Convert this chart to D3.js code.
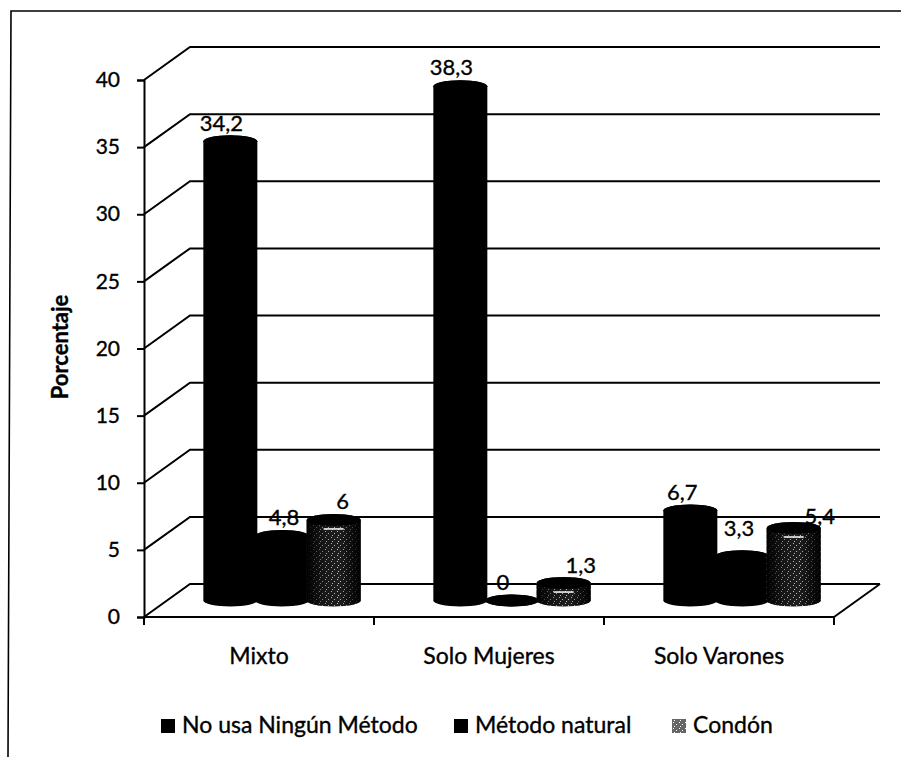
<!DOCTYPE html>
<html>
<head>
<meta charset="utf-8">
<script src="https://cdn.jsdelivr.net/npm/d3@7"></script>
<style>
  html, body { margin: 0; padding: 0; background: #fff; }
  svg { display: block; }
  text { font-family: Lato, "Open Sans", sans-serif; fill: #000; stroke: #000; stroke-width: 0.35px; }
</style>
</head>
<body>
<svg id="chart" width="901" height="757"></svg>
<script>
const categories = ["Mixto", "Solo Mujeres", "Solo Varones"];
const seriesNames = ["No usa Ningún Método", "Método natural", "Condón"];
const noUsa = [34.2, 38.3, 6.7];
const natural = [4.8, 0, 3.3];
const condon = [6, 1.3, 5.4];
const seriesValues = [noUsa, natural, condon];
const yTicks = [0, 5, 10, 15, 20, 25, 30, 35, 40];

const svg = d3.select("#chart");
const margin = { top: 80, left: 144, width: 690, height: 537 };
const depth = { x: 46, y: -33 };

// label nudges, one row per series, the original placed them by hand
const labelDx = [[-9, -9, -8], [2, -9, -3], [9, 17, 26]];
const labelDy = [[-10, -11, -11], [-11, -11, -20], [-11, -10, -4]];

const defs = svg.append("defs");

// speckled fill for the Condón series
function addSpeckle(id, bg, dot) {
    const pat = defs.append("pattern")
        .attr("id", id)
        .attr("width", 6).attr("height", 6)
        .attr("patternUnits", "userSpaceOnUse");
    pat.append("rect").attr("width", 6).attr("height", 6).attr("fill", bg);
    pat.append("rect").attr("x", 1).attr("y", 1).attr("width", 1).attr("height", 1).attr("fill", dot);
    pat.append("rect").attr("x", 4).attr("y", 3).attr("width", 1).attr("height", 1).attr("fill", dot);
    pat.append("rect").attr("x", 2).attr("y", 5).attr("width", 1).attr("height", 1).attr("fill", dot);
}
addSpeckle("speckle", "#222", "#ddd");
addSpeckle("speckleLight", "#666", "#fff");

// dark edges over the speckle so it reads as a round shape
const shade = defs.append("linearGradient").attr("id", "shade");
shade.append("stop").attr("offset", "0%").attr("stop-color", "#000").attr("stop-opacity", 1);
shade.append("stop").attr("offset", "30%").attr("stop-color", "#000").attr("stop-opacity", 0.35);
shade.append("stop").attr("offset", "60%").attr("stop-color", "#000").attr("stop-opacity", 0.1);
shade.append("stop").attr("offset", "100%").attr("stop-color", "#000").attr("stop-opacity", 1);

const fills = ["#000", "#000", "url(#speckle)"];
const swatchFills = ["#000", "#000", "url(#speckleLight)"];

// page frame, only top and left survive in the scan
svg.append("path")
    .attr("d", "M8,757L11,11H901")
    .attr("fill", "none").attr("stroke", "#000").attr("stroke-width", 1.6);

const g = svg.append("g").attr("transform", `translate(${margin.left},${margin.top})`);

const x = d3.scaleBand().domain(categories).range([0, margin.width]);
const y = d3.scaleLinear().domain([0, 40]).range([margin.height, 0]);
const inner = d3.scaleBand().domain(d3.range(3)).range([0, 155]);

// back wall gridlines and their slanted side lines
g.selectAll(".grid")
    .data(yTicks)
    .enter()
    .append("path")
    .attr("class", "grid")
    .attr("d", d => `M0,${y(d)}L${depth.x},${y(d) + depth.y}H${margin.width + depth.x}`)
    .attr("fill", "none").attr("stroke", "#000").attr("stroke-width", 2);

// right edge of the floor
g.append("line")
    .attr("x1", margin.width).attr("y1", y(0))
    .attr("x2", margin.width + depth.x).attr("y2", y(0) + depth.y)
    .attr("stroke", "#000").attr("stroke-width", 2);

// axes
const yAxis = g.append("g")
    .call(d3.axisLeft(y).tickValues(yTicks).tickSize(7).tickPadding(17).tickFormat(d3.format("d")));
yAxis.selectAll("text").style("font-size", "21px");
yAxis.selectAll("line, path").attr("stroke", "#000").attr("stroke-width", 2);

const xAxis = g.append("g")
    .attr("transform", `translate(0,${margin.height})`)
    .call(d3.axisBottom(x).tickSize(0).tickPadding(31));
xAxis.selectAll("text").style("font-size", "23px");
xAxis.selectAll("path").attr("stroke", "#000").attr("stroke-width", 2).attr("d", `M0,0H${margin.width}`);
xAxis.selectAll(".sep")
    .data(d3.range(categories.length + 1))
    .enter()
    .append("line")
    .attr("x1", d => d * x.step()).attr("x2", d => d * x.step())
    .attr("y1", 0).attr("y2", 8)
    .attr("stroke", "#000").attr("stroke-width", 2);

// cylinders, drawn back to front of the group
const rx = 27, ry = 6;
const flat = categories.flatMap((c, i) => seriesValues.map((vals, s) => ({ c, s, i, v: vals[i] })));
const groupLeft = d => x(d.c) + (x.bandwidth() - inner.range()[1]) / 2 + depth.x / 2;
const cx = d => groupLeft(d) + inner(d.s) + inner.bandwidth() / 2;
const base = margin.height + depth.y / 2;
const topY = d => y(d.v) + depth.y / 2;
const body = d => `M${cx(d) - rx},${topY(d)}V${base}A${rx},${ry} 0 0 0 ${cx(d) + rx},${base}V${topY(d)}A${rx},${ry} 0 0 0 ${cx(d) - rx},${topY(d)}Z`;

const cyl = g.selectAll(".cyl")
    .data(flat)
    .enter()
    .append("g")
    .attr("class", "cyl");

cyl.append("path")
    .attr("d", body)
    .attr("fill", d => fills[d.s]);
cyl.filter(d => d.s === 2).append("path")
    .attr("d", body)
    .attr("fill", "url(#shade)");
cyl.append("ellipse")
    .attr("cx", cx).attr("cy", topY)
    .attr("rx", rx).attr("ry", ry)
    .attr("fill", "#000");

// rim highlight on the Condón cylinders
cyl.filter(d => d.s === 2).append("line")
    .attr("x1", d => cx(d) - 10).attr("x2", d => cx(d) + 10)
    .attr("y1", d => topY(d) + 9).attr("y2", d => topY(d) + 9)
    .attr("stroke", "#fff").attr("stroke-width", 1.5);

// value labels
g.selectAll(".val")
    .data(flat)
    .enter()
    .append("text")
    .attr("class", "val")
    .attr("x", d => cx(d) + labelDx[d.s][d.i])
    .attr("y", d => topY(d) + labelDy[d.s][d.i])
    .attr("text-anchor", "middle")
    .style("font-size", "22px")
    .text(d => String(d.v).replace(".", ","));

// y axis title
svg.append("text")
    .attr("transform", "translate(68,347) rotate(-90)")
    .attr("text-anchor", "middle")
    .style("font-size", "22px")
    .style("font-weight", "bold")
    .text("Porcentaje");

// legend
const legendX = [161, 454, 672];
const legend = svg.selectAll(".leg")
    .data(seriesNames)
    .enter()
    .append("g")
    .attr("class", "leg")
    .attr("transform", (d, i) => `translate(${legendX[i]},733)`);
legend.append("rect")
    .attr("x", 0).attr("y", -14)
    .attr("width", 14).attr("height", 14)
    .attr("fill", (d, i) => swatchFills[i]);
legend.append("text")
    .attr("x", 21).attr("y", 0)
    .style("font-size", "23px")
    .text(d => d);
</script>
</body>
</html>
